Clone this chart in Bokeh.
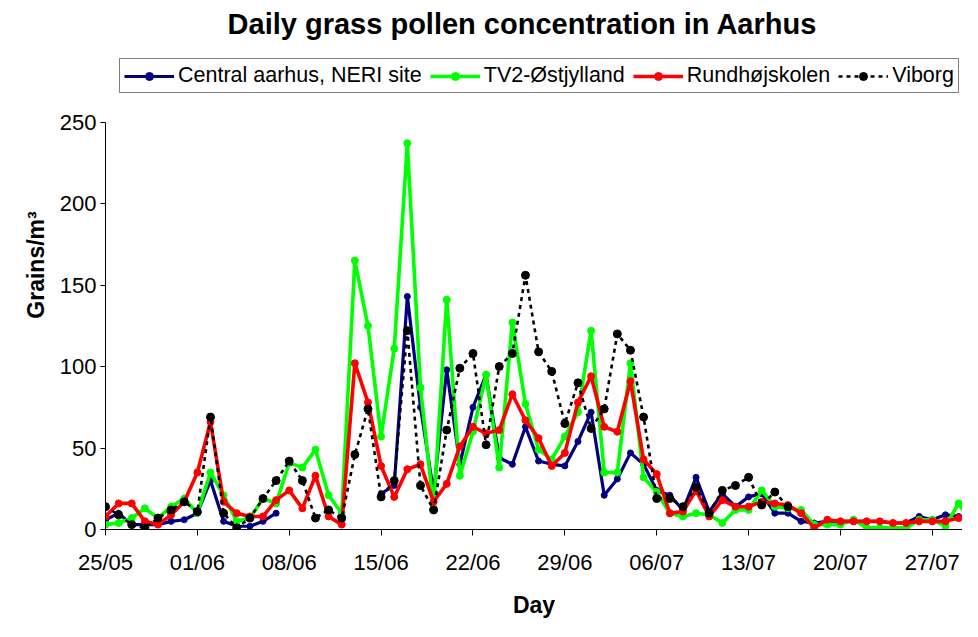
import numpy as np
from bokeh.plotting import figure
from bokeh.models import Range1d, FixedTicker, Legend, LegendItem, Label
from bokeh.embed import file_html
from bokeh.resources import INLINE

# ---- data (daily values, day 0 = 25/05) ----
tick_days = [0, 7, 14, 21, 28, 35, 42, 49, 56, 63]
tick_labels = ["25/05", "01/06", "08/06", "15/06", "22/06", "29/06",
               "06/07", "13/07", "20/07", "27/07"]
y_ticks = [0, 50, 100, 150, 200, 250]

days = list(range(67))

central = [6, 10, 3, 3, 3, 5, 6, 10, 30, 5, 2, 2, 5, 10,
           None, None, None, None, None, None, None,
           22, 27, 143, 75, 23, 98, 40, 75, 95, 44,
           40, 63, 42, 40, 39, 54, 72, 21, 31, 47,
           40, 24, 21, 12, 32, 11, 22, 14, 20, 22,
           10, 10, 5, 4, 5, 5, 5, 5, 5, 4,
           4, 8, 6, 9, 8, 7]

tv2 = [3, 4, 7, 13, 7, 14, 19, 10, 35, 21,
       5, 7, 19, 16, 41, 38, 49, 21, 10, 165,
       125, 57, 111, 237, 87, 13, 141, 33, 60, 95,
       38, 127, 77, 49, 43, 57, 72, 122, 35, 35,
       102, 32, 23, 10, 8, 10, 9, 4, 12, 12,
       24, 14, 13, 12, 3, 3, 3, 6, 1, 1,
       1, 1, 6, 6, 2, 16, 4]

rundh = [8, 16, 16, 5, 3, 9, 17, 35, 66, 17,
         10, 8, 8, 18, 24, 13, 33, 8, 3, 102,
         78, 39, 20, 37, 40, 17, 28, 51, 63, 59,
         61, 83, 67, 56, 39, 47, 78, 94, 63, 60,
         91, 43, 34, 10, 11, 24, 8, 18, 14, 14,
         17, 16, 15, 10, 1, 6, 5, 5, 5, 5,
         4, 4, 5, 5, 5, 7, 6]

viborg = [14, 9, 3, 1, 7, 12, 17, 11, 69, 10,
          1, 7, 19, 30, 42, 30, 7, 12, 7, 46,
          74, 20, 30, 122, 27, 12, 61, 99, 108, 52,
          100, 108, 156, 109, 97, 65, 90, 62, 74, 120,
          110, 69, 19, 19, 14, 26, 10, 24, 27, 32,
          15, 23, 14,
          None, None, None, None, None, None, None,
          None, None, None, None, None, None, None]

series = [
    ("Central aarhus, NERI site", central, "#000080", 3.2, 6, None),
    ("TV2-Østjylland", tv2, "#00FF00", 3.6, 7, None),
    ("Rundhøjskolen", rundh, "#FF0000", 3.6, 7, None),
    ("Viborg", viborg, "#000000", 2.6, 8, "4 4"),
]

FONT = "Liberation Sans"

# frame spans the full height above the x axis; the y axis line is bounded to 0..250
p = figure(width=962, height=621, output_backend="svg", toolbar_location=None,
           x_range=Range1d(0, 65.3), y_range=Range1d(0, 324.6),
           min_border_left=105, min_border_right=0,
           min_border_top=0, min_border_bottom=92)
p.outline_line_color = None
p.xgrid.visible = False
p.ygrid.visible = False
p.background_fill_color = "white"
p.border_fill_color = "white"

items = []
for name, vals, color, lw, ms, dash in series:
    y = np.array(vals, dtype=float)
    x = np.array(days, dtype=float)
    kw = dict(line_color=color, line_width=lw)
    if dash:
        kw["line_dash"] = dash
    lr = p.line(x, y, **kw)
    sr = p.scatter(x, y, size=ms, fill_color=color, line_color=color, marker="circle")
    items.append(LegendItem(label=name, renderers=[lr, sr]))

legend = Legend(items=items, orientation="horizontal", location=(14, 436),
                label_text_font=FONT, label_text_font_size="21.5px",
                label_text_color="black",
                glyph_width=50, glyph_height=20, label_standoff=4,
                spacing=8, padding=4, margin=0,
                border_line_color="black", border_line_width=1,
                background_fill_color="white", background_fill_alpha=1)
p.add_layout(legend)

title = Label(x=417, y=506, x_units="screen", y_units="screen",
              text="Daily grass pollen concentration in Aarhus",
              text_font=FONT, text_font_style="bold", text_font_size="29px",
              text_align="center", text_baseline="middle", text_color="black")
p.add_layout(title)

xa = p.xaxis[0]
xa.ticker = FixedTicker(ticks=tick_days)
xa.major_label_overrides = {d: l for d, l in zip(tick_days, tick_labels)}
xa.minor_tick_line_color = None
xa.major_tick_in = 0
xa.major_tick_out = 6
xa.major_label_standoff = 14
xa.axis_line_color = "black"
xa.major_tick_line_color = "black"
xa.major_label_text_font = FONT
xa.major_label_text_font_size = "22px"
xa.major_label_text_color = "black"
xa.axis_label = "Day"
xa.axis_label_text_font = FONT
xa.axis_label_text_font_style = "bold"
xa.axis_label_text_font_size = "23px"
xa.axis_label_standoff = 14
xa.axis_label_text_color = "black"

ya = p.yaxis[0]
ya.ticker = FixedTicker(ticks=y_ticks)
ya.bounds = (0, 250)
ya.minor_tick_line_color = None
ya.major_tick_in = 0
ya.major_tick_out = 5
ya.major_label_standoff = 4
ya.axis_line_color = "black"
ya.major_tick_line_color = "black"
ya.major_label_text_font = FONT
ya.major_label_text_font_size = "22px"
ya.major_label_text_color = "black"
ya.axis_label = "Grains/m³"
ya.axis_label_text_font = FONT
ya.axis_label_text_font_style = "bold"
ya.axis_label_text_font_size = "23px"
ya.axis_label_standoff = 8
ya.axis_label_text_color = "black"

open("out.html", "w").write(file_html(p, INLINE))
